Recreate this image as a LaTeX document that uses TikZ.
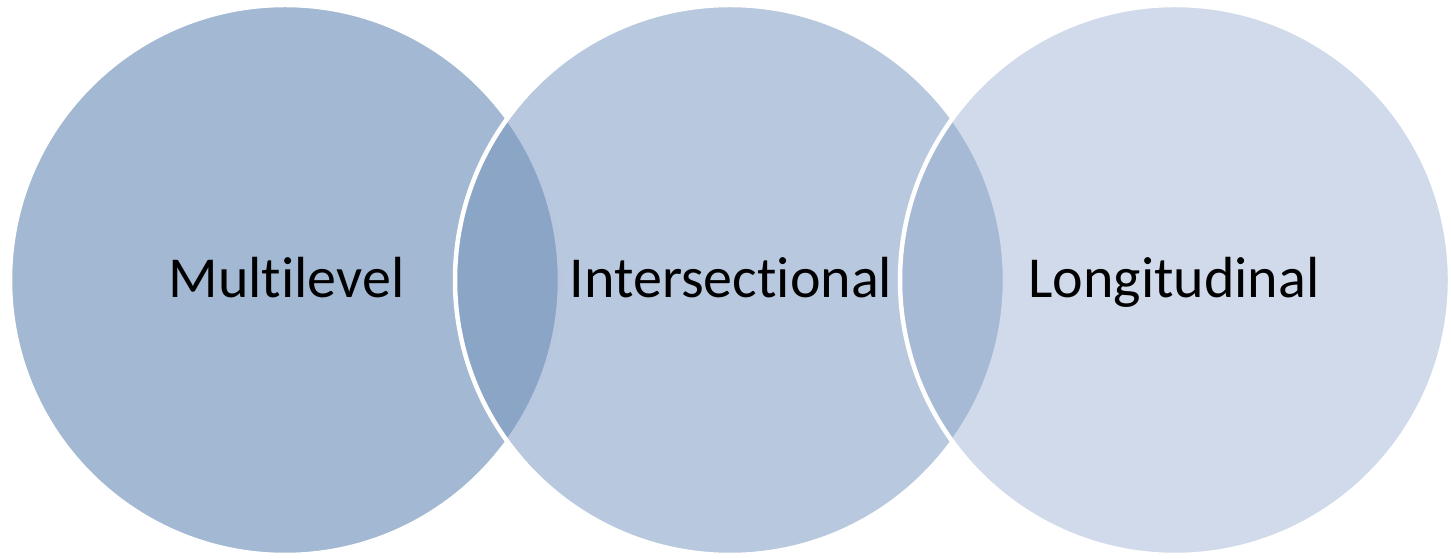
\documentclass[tikz,border=0pt]{standalone}
\usepackage{fontspec}
\setmainfont[Ligatures=NoCommon]{Carlito}
\definecolor{cA}{RGB}{163,184,210}
\definecolor{cB}{RGB}{116,147,190}
\definecolor{cC}{RGB}{143,167,205}
\begin{document}
\begin{tikzpicture}[x=1pt,y=1pt,
  venn/.style={circle,minimum size=550pt,inner sep=0pt,draw=white,line width=4.5pt},
  lbl/.style={anchor=base,font=\fontsize{58}{70}\selectfont,text=black,inner sep=0pt}]
\useasboundingbox (0,0) rectangle (1451,559);
\node[venn,fill=cA] (c1) at (285,279) {};
\node[venn,fill=cB,fill opacity=0.51] (c2) at (730,279) {};
\node[venn,fill=cC,fill opacity=0.42] (c3) at (1175,279) {};
\node[lbl] (t1) at (286.5,261) {Multilevel};
\node[lbl] (t2) at (731,261) {Intersectional};
\node[lbl] (t3) at (1174,261) {Longitudinal};
\end{tikzpicture}
\end{document}
